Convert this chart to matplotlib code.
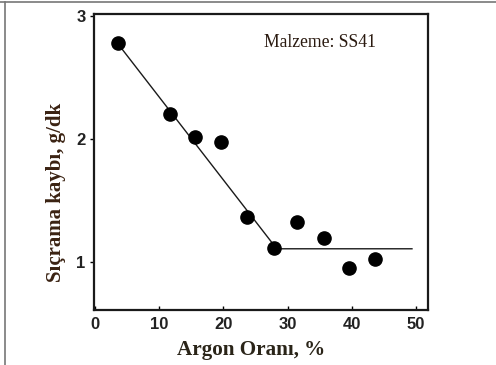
import matplotlib
matplotlib.use("Agg")
import matplotlib.pyplot as plt
from matplotlib.lines import Line2D

# Data
argon = [3.5, 11.6, 15.6, 19.6, 23.7, 27.9, 31.5, 35.7, 39.6, 43.7]
spatter = [2.785, 2.21, 2.02, 1.975, 1.37, 1.115, 1.33, 1.20, 0.95, 1.03]
fit_x = [3.5, 28.3, 49.4]
fit_y = [2.78, 1.11, 1.11]
xticks = [0, 10, 20, 30, 40, 50]
yticks = [1, 2, 3]

fig = plt.figure(figsize=(4.96, 3.65), dpi=100)
ax = fig.add_axes([94/496, 1 - 310/365, (428 - 94)/496, (310 - 14)/365])

ax.plot(fit_x, fit_y, color="#1a1a1a", lw=1.0, zorder=2)
ax.plot(argon, spatter, "o", color="black", ms=9.5, zorder=3)

ax.set_xlim(-0.2, 51.9)
ax.set_ylim(0.612, 3.02)
ax.set_xticks(xticks)
ax.set_yticks(yticks)
for s in ax.spines.values():
    s.set_linewidth(1.6)
    s.set_color("#1a1a1a")
ax.tick_params(axis="x", direction="in", length=3, width=1, pad=5)
ax.tick_params(axis="y", direction="out", length=3, width=1, pad=3)
for lab in ax.get_xticklabels() + ax.get_yticklabels():
    lab.set_fontfamily("Liberation Sans")
    lab.set_fontweight("bold")
    lab.set_fontsize(12)
    lab.set_color("#222222")

ax.set_xlabel("Argon Oranı, %", fontfamily="Liberation Serif", fontweight="bold",
              fontsize=15.2, color="#2a2418")
ax.xaxis.set_label_coords((251.5 - 94) / 334, -(340 - 310) / 296)
ax.set_ylabel("Sıçrama kaybı, g/dk", fontfamily="Liberation Serif", fontweight="bold",
              fontsize=15, color="#3a2212")
ax.yaxis.set_label_coords(-(94 - 66) / 334, (310 - 192) / 296)
ax.text(0.508, 0.905, "Malzeme: SS41", transform=ax.transAxes, fontfamily="Liberation Serif",
        fontsize=12.7, color="#2a1a10", ha="left", va="center")

# outer frame lines (top and left)
fig.add_artist(Line2D([0, 1], [1 - 1.5/365, 1 - 1.5/365], transform=fig.transFigure,
                      color="#777777", lw=1.2))
fig.add_artist(Line2D([5/496, 5/496], [0, 1 - 1.5/365], transform=fig.transFigure,
                      color="#777777", lw=1.2))

fig.savefig("out.png", dpi=100)
